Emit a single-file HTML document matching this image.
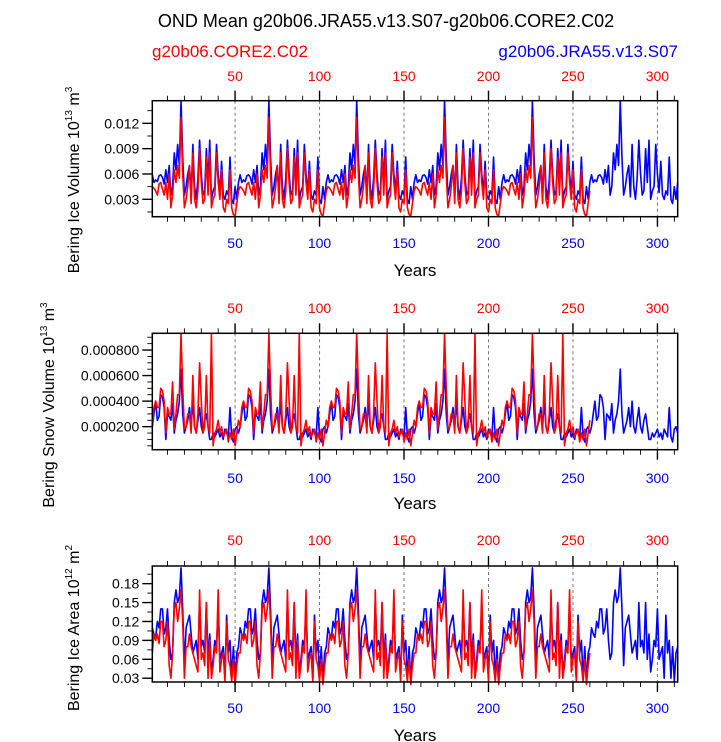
<!DOCTYPE html>
<html><head><meta charset="utf-8"><style>
body{margin:0;background:#fff;}
svg{display:block;font-family:"Liberation Sans",sans-serif;}
</style></head><body>
<svg id="c" width="721" height="742">
<text x="386" y="27" font-size="18" text-anchor="middle">OND Mean g20b06.JRA55.v13.S07-g20b06.CORE2.C02</text>
<text x="152" y="57" font-size="17" fill="#f00">g20b06.CORE2.C02</text>
<text x="678" y="57" font-size="17" fill="#00f" text-anchor="end">g20b06.JRA55.v13.S07</text>
</svg>
<script>
const cycB1=[5.9,5.0,5.3,5.1,5.8,5.9,5.6,4.8,6.5,5.0,7.0,3.5,4.5,8.5,6.5,9.5,7.0,14.7,8.0,3.5,4.5,6.0,7.0,3.3,9.5,4.5,3.0,5.5,10.0,6.0,3.5,4.0,9.0,5.0,10.0,3.0,4.0,4.5,9.5,6.0,3.8,7.5,3.5,3.0,4.0,3.5,8.0,3.0,2.5,4.5,3.0,5.0];
const cycR1=[4.5,4.3,4.0,3.5,4.8,5.0,4.2,3.5,5.0,3.0,6.0,2.0,3.5,6.5,5.0,7.0,5.5,12.7,6.0,2.0,3.0,4.5,7.0,2.5,8.5,3.0,2.0,4.0,9.0,5.0,2.5,3.0,8.0,3.5,8.5,2.0,3.0,3.5,8.5,5.0,3.0,6.5,2.0,1.5,3.0,2.5,6.5,2.0,1.2,1.0,2.5,4.0];
const cycB2=[2.0,3.0,4.0,2.5,2.8,4.5,4.3,3.5,1.0,3.0,2.8,2.5,3.8,1.5,2.5,3.0,4.0,6.5,3.0,1.5,2.0,2.5,3.5,2.0,4.0,2.0,1.5,2.5,3.5,2.0,1.5,2.5,3.0,2.0,1.0,1.0,1.5,1.2,1.5,1.8,1.2,1.5,1.0,1.8,1.5,1.2,3.5,1.2,0.8,1.8,2.0,1.5];
const cycR2=[2.0,3.5,4.0,3.5,3.5,5.0,4.8,4.0,1.5,3.5,3.0,3.0,5.5,1.8,3.0,4.5,4.5,9.3,5.0,1.8,2.0,3.0,3.0,1.5,6.0,2.0,1.5,3.0,7.0,4.0,1.5,2.0,6.0,2.0,1.5,9.3,0.5,1.5,1.8,2.5,1.5,2.0,1.2,1.5,1.8,0.8,1.5,1.0,1.8,0.5,1.5,2.5];
const cycB3=[11,10,9.5,12,11,14,14,10,11,14,9,6,7,15,17,15,16,20.5,14,5,11,12,13,10,7,8,9,6,15,8,9,7,15,6,10,4,6,9,8,14,6,7,8,3,13,7,9,3,8,2.5,7,8];
const cycR3=[7,10,9,10,8.5,12,12,8,9,12,5,3,7,14,15,12,14,17,12,3,8,8,10,8,7,6,5,4,17,6,7,5,15,3,9,3,5,8,7,17,4,6,7,2.5,12,6,5,2.5,6,2,5,7];
const iceVolJRA=[].concat(cycB1,cycB1,cycB1,cycB1,cycB1,cycB1);
const iceVolCORE=[].concat(cycR1,cycR1,cycR1,cycR1,cycR1);
const snowVolJRA=[].concat(cycB2,cycB2,cycB2,cycB2,cycB2,cycB2);
const snowVolCORE=[].concat(cycR2,cycR2,cycR2,cycR2,cycR2);
const iceAreaJRA=[].concat(cycB3,cycB3,cycB3,cycB3,cycB3,cycB3);
const iceAreaCORE=[].concat(cycR3,cycR3,cycR3,cycR3,cycR3);
const xTicks=[50,100,150,200,250,300];
const ticks1=[3,6,9,12], labels1=["0.003","0.006","0.009","0.012"];
const ticks2=[2,4,6,8], labels2=["0.000200","0.000400","0.000600","0.000800"];
const ticks3=[3,6,9,12,15,18], labels3=["0.03","0.06","0.09","0.12","0.15","0.18"];

const NS="http://www.w3.org/2000/svg";
const svg=document.getElementById('c');
function mk(t,a,p){const e=document.createElementNS(NS,t);for(const k in a)e.setAttribute(k,a[k]);(p||svg).appendChild(e);return e;}
const L=152.3,R=677.7,X0=1,X1=312;
const xs=v=>L+(v-X0)/(X1-X0)*(R-L);

function panel(id,top,bot,ymin,ymax,ticks,labels,minorStep,blue,red,ytitle,sup,unit,usup,ytx,yty,xlabY,yearsY,topLabY){
  const g=mk('g',{});
  
  
  const ys=v=>bot-(v-ymin)/(ymax-ymin)*(bot-top);
  xTicks.forEach(t=>{const l=mk('line',{x1:xs(t),x2:xs(t),y1:top,y2:bot,stroke:'#777','stroke-dasharray':'3,3','stroke-width':1},g);
    });
  function line(arr,col,nm){let d='';arr.forEach((v,i)=>{d+=(i?'L':'M')+xs(i+1).toFixed(2)+','+ys(v).toFixed(2);});
    const p=mk('path',{d:d,fill:'none',stroke:col,'stroke-width':1.6,'stroke-linejoin':'round'},g);
    }
  line(blue,'#00f','series-jra55');
  line(red,'#f00','series-core2');
  const b=mk('rect',{x:L,y:top,width:R-L,height:bot-top,fill:'none',stroke:'#000','stroke-width':1.5},g);
  
  for(let t=10;t<=310;t+=10){const maj=t%50===0;const len=maj?10:5;
    mk('line',{x1:xs(t),x2:xs(t),y1:top,y2:top-len,stroke:'#000','stroke-width':maj?1.4:0.9},g);
    mk('line',{x1:xs(t),x2:xs(t),y1:bot,y2:bot+len,stroke:'#000','stroke-width':maj?1.4:0.9},g);}
  xTicks.forEach(t=>{
    const a=mk('text',{x:xs(t),y:topLabY,'font-size':14,fill:'#f00','text-anchor':'middle'},g);a.textContent=t;
    
    const c=mk('text',{x:xs(t),y:xlabY,'font-size':14,fill:'#00f','text-anchor':'middle'},g);c.textContent=t;
    });
  for(let v=Math.ceil(ymin/minorStep)*minorStep;v<=ymax+1e-9;v+=minorStep){
    const maj=ticks.some(t=>Math.abs(t-v)<1e-6);
    mk('line',{x1:L,x2:L-(maj?10:5),y1:ys(v),y2:ys(v),stroke:'#000','stroke-width':maj?1.4:0.9},g);}
  ticks.forEach((t,i)=>{const a=mk('text',{x:L-13,y:ys(t)+5,'font-size':14,'text-anchor':'end'},g);a.textContent=labels[i];
    });
  const yt=mk('text',{transform:`translate(${ytx},${yty}) rotate(-90)`,'font-size':16,'text-anchor':'middle'},g);
  yt.innerHTML=ytitle+' 10<tspan dy="-7" font-size="10">'+sup+'</tspan><tspan dy="7"> '+unit+'</tspan><tspan dy="-7" font-size="10">'+usup+'</tspan>';
  
  const yr=mk('text',{x:415,y:yearsY,'font-size':17,'text-anchor':'middle'},g);yr.textContent='Years';
  
}
panel('panel-ice-volume',100.7,216.7,0.94,14.68,ticks1,labels1,1.5,iceVolJRA,iceVolCORE,'Bering Ice Volume','13','m','3',79,180,248,276,81);
panel('panel-snow-volume',333.3,449.7,0.196,9.31,ticks2,labels2,0.5,snowVolJRA,snowVolCORE,'Bering Snow Volume','13','m','3',54,405,483,509,313);
panel('panel-ice-area',566,682,2.4,20.8,ticks3,labels3,1.5,iceAreaJRA,iceAreaCORE,'Bering Ice Area','12','m','2',79,628,713,741,545);
</script>
</body></html>
